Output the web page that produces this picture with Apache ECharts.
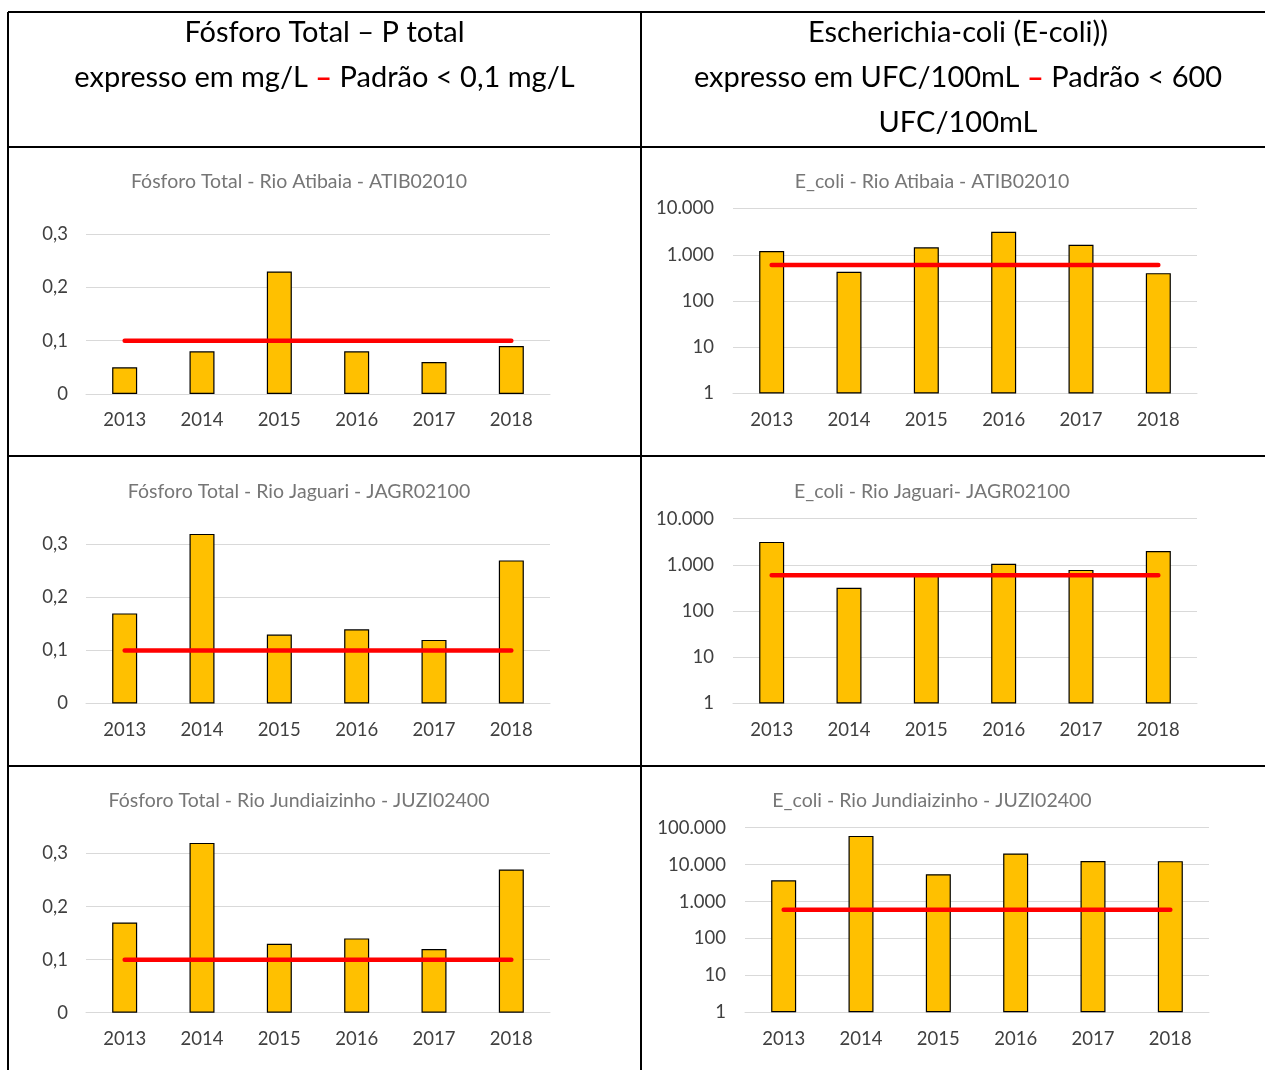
<!DOCTYPE html>
<html><head><meta charset="utf-8">
<script src="https://cdn.jsdelivr.net/npm/echarts@6/dist/echarts.min.js"></script>
<style>html,body{margin:0;padding:0;background:#fff}#c{width:1265px;height:1070px}</style>
</head><body><div id="c"></div>
<script>
const years = ['2013', '2014', '2015', '2016', '2017', '2018'];
const fosforoAtibaia = [0.05, 0.08, 0.23, 0.08, 0.06, 0.09];
const fosforoJaguari = [0.17, 0.32, 0.13, 0.14, 0.12, 0.27];
const fosforoJundiaizinho = [0.17, 0.32, 0.13, 0.14, 0.12, 0.27];
const ecoliAtibaia = [1200, 430, 1450, 3150, 1650, 400];
const ecoliJaguari = [3150, 320, 630, 1060, 780, 2000];
const ecoliJundiaizinho = [3750, 60000, 5500, 20000, 12500, 12400];
const padraoFosforo = [0.1, 0.1, 0.1, 0.1, 0.1, 0.1];
const padraoEcoli = [600, 600, 600, 600, 600, 600];
const chartTitles = [
  'Fósforo Total - Rio Atibaia - ATIB02010',
  'E_coli - Rio Atibaia - ATIB02010',
  'Fósforo Total - Rio Jaguari - JAGR02100',
  'E_coli - Rio Jaguari- JAGR02100',
  'Fósforo Total - Rio Jundiaizinho - JUZI02400',
  'E_coli - Rio Jundiaizinho - JUZI02400'
];
const headerLeft = ['Fósforo Total – P total', 'expresso em mg/L ', '–', ' Padrão < 0,1 mg/L'];
const headerRight = ['Escherichia-coli (E-coli))', 'expresso em UFC/100mL ', '–', ' Padrão < 600', 'UFC/100mL'];

const FONT = 'Lato';
const panels = [
  { kind: 'p', data: fosforoAtibaia, pad: padraoFosforo, grid: { left: 86, top: 207.5, width: 464, height: 186.5 }, tx: 299, ty: 182 },
  { kind: 'e', data: ecoliAtibaia, pad: padraoEcoli, max: 10000, grid: { left: 733, top: 208.5, width: 464, height: 185 }, tx: 932, ty: 182 },
  { kind: 'p', data: fosforoJaguari, pad: padraoFosforo, grid: { left: 86, top: 518, width: 464, height: 185.5 }, tx: 299, ty: 492 },
  { kind: 'e', data: ecoliJaguari, pad: padraoEcoli, max: 10000, grid: { left: 733, top: 518.7, width: 464, height: 184.8 }, tx: 932, ty: 492 },
  { kind: 'p', data: fosforoJundiaizinho, pad: padraoFosforo, grid: { left: 86, top: 827, width: 464, height: 185.7 }, tx: 299, ty: 801 },
  { kind: 'e', data: ecoliJundiaizinho, pad: padraoEcoli, max: 100000, grid: { left: 745, top: 827.7, width: 464, height: 184.6 }, tx: 932, ty: 801 }
];

function fmtThousands(v) {
  return String(Math.round(v)).replace(/\B(?=(\d{3})+(?!\d))/g, '.');
}
function fmtDec(v) {
  const r = Math.round(v * 10) / 10;
  return r === 0 ? '0' : String(r).replace('.', ',');
}

const grid = [], xAxis = [], yAxis = [], series = [], graphic = [];
panels.forEach((p, i) => {
  grid.push(Object.assign({ containLabel: false }, p.grid));
  xAxis.push({
    type: 'category', gridIndex: i, data: years,
    axisLine: { show: true, lineStyle: { color: '#D9D9D9', width: 1 } },
    axisTick: { show: false },
    axisLabel: { color: '#404040', fontFamily: FONT, fontSize: 18.5, margin: 17 }
  });
  if (p.kind === 'p') {
    yAxis.push({
      type: 'value', gridIndex: i, min: 0, max: 0.35, interval: 0.1,
      axisLine: { show: false }, axisTick: { show: false },
      splitLine: { show: true, showMaxLine: false, lineStyle: { color: '#D9D9D9', width: 1 } },
      axisLabel: { color: '#404040', fontFamily: FONT, fontSize: 18.5, margin: 18, showMaxLabel: false, formatter: fmtDec }
    });
  } else {
    yAxis.push({
      type: 'log', logBase: 10, gridIndex: i, min: 1, max: p.max,
      axisLine: { show: false }, axisTick: { show: false },
      splitLine: { show: true, lineStyle: { color: '#D9D9D9', width: 1 } },
      axisLabel: { color: '#404040', fontFamily: FONT, fontSize: 18.5, margin: 19, formatter: fmtThousands }
    });
  }
  series.push({
    type: 'bar', xAxisIndex: i, yAxisIndex: i, data: p.data, barWidth: 25, clip: false,
    itemStyle: { color: '#FFC000', borderColor: '#000', borderWidth: 1.2 },
    silent: true, animation: false
  });
  series.push({
    type: 'line', xAxisIndex: i, yAxisIndex: i, data: p.pad, symbol: 'none', z: 5,
    lineStyle: { color: '#FF0000', width: 4.5, cap: 'round' }, silent: true, animation: false
  });
  graphic.push({
    type: 'text', x: p.tx, y: p.ty,
    style: { text: chartTitles[i], fill: '#767676', font: '19.5px ' + FONT, textAlign: 'center', textVerticalAlign: 'middle' }
  });
});

// table borders
const L = { stroke: '#000', lineWidth: 2 };
[[8, 12, 1265, 12], [8, 147, 1265, 147], [8, 456, 1265, 456], [8, 766, 1265, 766],
 [8, 12, 8, 1070], [641, 12, 641, 1070]].forEach(s => {
  graphic.push({ type: 'line', shape: { x1: s[0], y1: s[1], x2: s[2], y2: s[3] }, style: L, z: 10 });
});

const hRich = {
  a: { fill: '#000', fontFamily: FONT, fontSize: 29 },
  r: { fill: '#FF0000', fontFamily: FONT, fontSize: 29, fontWeight: 'bold' }
};
function headerText(x, y, txt) {
  graphic.push({ type: 'text', x: x, y: y, style: { text: txt, rich: hRich, textAlign: 'center', textVerticalAlign: 'middle' } });
}
headerText(324.5, 33, '{a|' + headerLeft[0] + '}');
headerText(324.5, 78, '{a|' + headerLeft[1] + '}{r|' + headerLeft[2] + '}{a|' + headerLeft[3] + '}');
headerText(958, 33, '{a|' + headerRight[0] + '}');
headerText(958, 78, '{a|' + headerRight[1] + '}{r|' + headerRight[2] + '}{a|' + headerRight[3] + '}');
headerText(958, 123, '{a|' + headerRight[4] + '}');

const chart = echarts.init(document.getElementById('c'));
chart.setOption({ animation: false, backgroundColor: '#fff', grid, xAxis, yAxis, series, graphic });
</script></body></html>
